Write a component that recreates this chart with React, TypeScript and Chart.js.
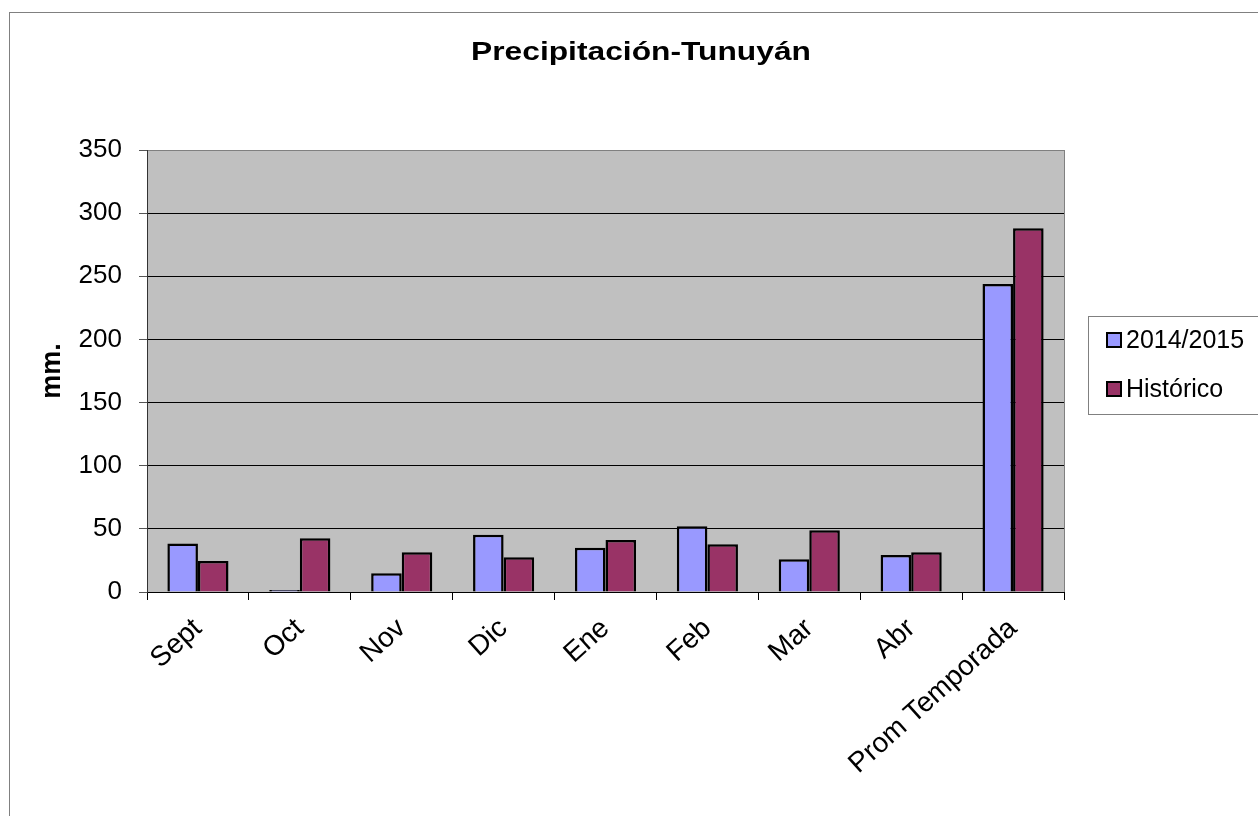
import React, { useEffect, useRef } from "react";
import { Chart, registerables } from "chart.js";

Chart.register(...registerables);

const categories = ["Sept", "Oct", "Nov", "Dic", "Ene", "Feb", "Mar", "Abr", "Prom Temporada"];
const serie2014 = [38.5, 1.5, 14.8, 45.4, 35.1, 52, 25.9, 29.3, 243.9];
const historico = [24.5, 42.5, 31.4, 27.5, 41.2, 37.8, 48.8, 31.4, 288];
const seriesNames = ["2014/2015", "Histórico"];
const seriesColors = ["#9999FF", "#993366"];
const yTicks = [0, 50, 100, 150, 200, 250, 300, 350];
const chartTitle = "Precipitación-Tunuyán";

const W = 1282;
const H = 830;
const PLOT_LEFT = 147;
const PLOT_TOP = 150;
const PLOT_RIGHT = 1064;
const PLOT_BOTTOM = 592;
const FONT = "'Liberation Sans', Arial, sans-serif";

const framePlugin = {
  id: "frame",
  beforeDraw(chart: any) {
    const { ctx, chartArea } = chart;
    ctx.save();
    ctx.fillStyle = "#ffffff";
    ctx.fillRect(0, 0, chart.width, chart.height);
    ctx.strokeStyle = "#808080";
    ctx.lineWidth = 1;
    ctx.strokeRect(9.5, 12.5, chart.width - 11, chart.height - 15);
    ctx.fillStyle = "#C0C0C0";
    ctx.fillRect(chartArea.left, chartArea.top, chartArea.right - chartArea.left, chartArea.bottom - chartArea.top);
    // title (horizontally stretched like the reference)
    ctx.save();
    ctx.translate(641, 53);
    ctx.scale(1.27, 1);
    ctx.fillStyle = "#000";
    ctx.font = `bold 25px ${FONT}`;
    ctx.textAlign = "center";
    ctx.textBaseline = "middle";
    ctx.fillText(chartTitle, 0, 0);
    ctx.restore();
    ctx.restore();
  },
  afterDatasetsDraw(chart: any) {
    const { ctx, chartArea } = chart;
    ctx.save();
    ctx.strokeStyle = "#808080";
    ctx.lineWidth = 1;
    ctx.beginPath();
    ctx.moveTo(chartArea.right + 0.5, chartArea.top);
    ctx.lineTo(chartArea.right + 0.5, chartArea.bottom);
    ctx.stroke();
    ctx.restore();
  },
  afterDraw(chart: any) {
    const { ctx } = chart;
    ctx.save();
    const bx = 1088.5, by = 316.5, bw = 220, bh = 98;
    ctx.fillStyle = "#ffffff";
    ctx.fillRect(bx, by, bw, bh);
    ctx.strokeStyle = "#808080";
    ctx.lineWidth = 1;
    ctx.strokeRect(bx, by, bw, bh);
    const rows = [340, 389];
    chart.data.datasets.forEach((ds: any, i: number) => {
      const cy = rows[i];
      ctx.fillStyle = ds.backgroundColor;
      ctx.fillRect(1107, cy - 7, 14, 14);
      ctx.strokeStyle = "#000";
      ctx.lineWidth = 2;
      ctx.strokeRect(1107, cy - 7, 14, 14);
      ctx.fillStyle = "#000";
      ctx.font = `25px ${FONT}`;
      ctx.textAlign = "left";
      ctx.textBaseline = "middle";
      ctx.fillText(ds.label, 1126, cy + 1);
    });
    ctx.restore();
  },
};

export default function App() {
  const ref = useRef<HTMLCanvasElement>(null);
  useEffect(() => {
    const canvas = ref.current!;
    const chart = new Chart(canvas, {
      type: "bar",
      data: {
        labels: categories,
        datasets: [
          { label: seriesNames[0], data: serie2014, backgroundColor: seriesColors[0], borderColor: "#000", borderWidth: 2.5 },
          { label: seriesNames[1], data: historico, backgroundColor: seriesColors[1], borderColor: "#000", borderWidth: 2.5 },
        ],
      },
      options: {
        responsive: false,
        animation: false,
        devicePixelRatio: 1,
        layout: { padding: { top: PLOT_TOP, left: 0, right: W - PLOT_RIGHT, bottom: 0 } },
        datasets: { bar: { categoryPercentage: 0.6, barPercentage: 1 } },
        plugins: {
          legend: { display: false },
          tooltip: { enabled: false },
          title: { display: false },
        },
        scales: {
          x: {
            grid: { display: true, drawOnChartArea: false, offset: true, color: "#000", tickLength: 8 },
            border: { display: true, color: "#000", width: 1 },
            ticks: {
              autoSkip: false,
              maxRotation: 42,
              minRotation: 42,
              padding: 12,
              color: "#000",
              font: { family: FONT, size: 28 },
            },
            afterFit(scale: any) {
              scale.height = H - PLOT_BOTTOM;
            },
          },
          y: {
            min: 0,
            max: 350,
            afterBuildTicks(scale: any) {
              scale.ticks = yTicks.map((v) => ({ value: v }));
            },
            grid: {
              color: (c: any) => (c.tick && c.tick.value === 350 ? "#808080" : "#000"),
              tickColor: "#555",
              tickLength: 8,
              lineWidth: 1,
            },
            border: { display: true, color: "#333", width: 1 },
            ticks: {
              padding: 17,
              color: "#000",
              font: { family: FONT, size: 26 },
            },
            title: {
              display: true,
              text: "mm.",
              color: "#000",
              font: { family: FONT, size: 27, weight: "bold" },
              padding: { top: 36, bottom: 0 },
            },
            afterFit(scale: any) {
              scale.width = PLOT_LEFT;
            },
          },
        },
      },
      plugins: [framePlugin],
    });
    return () => chart.destroy();
  }, []);
  return (
    <div style={{ position: "fixed", left: 0, top: 0, width: 1258, height: 816, overflow: "hidden", background: "#fff" }}>
      <canvas ref={ref} width={W} height={H} style={{ width: W, height: H, display: "block" }} />
    </div>
  );
}
